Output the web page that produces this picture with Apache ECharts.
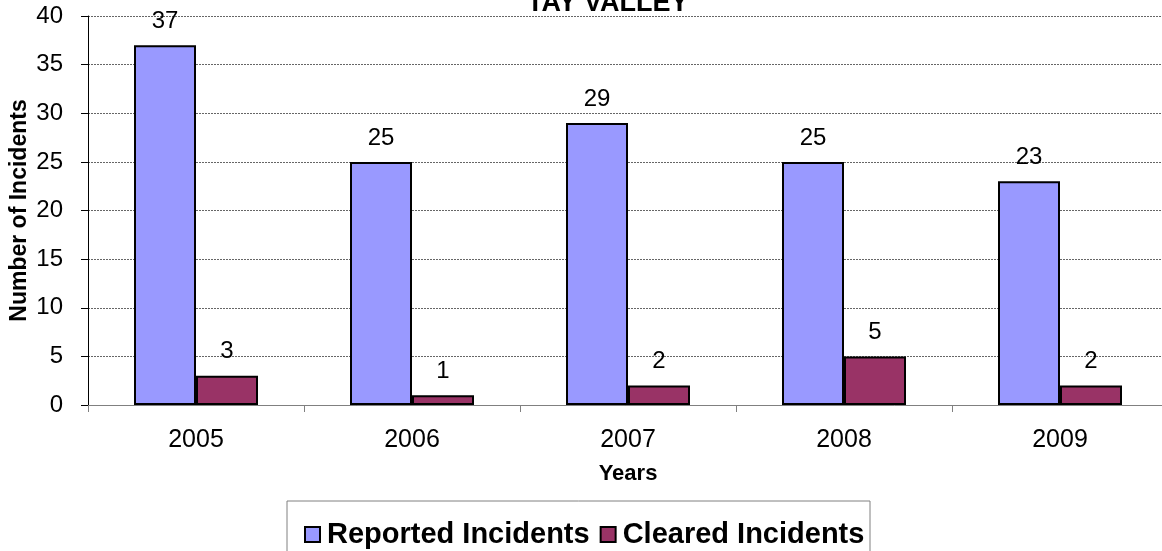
<!DOCTYPE html>
<html>
<head>
<meta charset="utf-8">
<script src="https://cdn.jsdelivr.net/npm/echarts@6/dist/echarts.min.js"></script>
<style>
  html, body { margin: 0; padding: 0; background: #fff; }
  #chart { width: 1162px; height: 551px; }
</style>
</head>
<body>
<div id="chart"></div>
<script>
// data
const years = ['2005', '2006', '2007', '2008', '2009'];
const reported = [37, 25, 29, 25, 23];
const cleared = [3, 1, 2, 5, 2];

const font = 'Arial, "Liberation Sans", sans-serif';

let myChart = echarts.init(document.getElementById('chart'));
myChart.setOption({
  animation: false,
  backgroundColor: '#fff',
  // plot runs a little past the right edge, as in the reference
  grid: {
    left: 88,
    right: -6,
    top: 16,
    bottom: 146,
    outerBoundsMode: 'none',
  },
  graphic: [
    // title, half cut off at the top edge
    {
      type: 'text',
      left: 527,
      top: -10,
      style: {
        text: 'TAY VALLEY',
        font: 'bold 27px ' + font,
        fill: '#000',
      },
    },
    // legend frame
    {
      type: 'rect',
      shape: { x: 287, y: 501, width: 583, height: 60 },
      style: { fill: 'none', stroke: '#808080', lineWidth: 1 },
    },
  ],
  legend: {
    left: 299,
    top: 515,
    itemWidth: 15,
    itemHeight: 15,
    itemGap: 10,
    icon: 'rect',
    textStyle: {
      fontFamily: font,
      fontWeight: 'bold',
      fontSize: 29,
      color: '#000',
      padding: [0, 0, 0, 2],
    },
    data: ['Reported Incidents', 'Cleared Incidents'],
  },
  xAxis: {
    type: 'category',
    data: years,
    name: 'Years',
    nameLocation: 'middle',
    nameGap: 58,
    nameMoveOverlap: false,
    nameTextStyle: {
      fontFamily: font,
      fontWeight: 'bold',
      fontSize: 22,
      color: '#000',
    },
    axisLine: { lineStyle: { color: '#808080', width: 1 } },
    axisTick: { show: true, length: 7, lineStyle: { color: '#808080' } },
    axisLabel: {
      fontFamily: font,
      fontSize: 25,
      color: '#000',
      margin: 23,
    },
  },
  yAxis: {
    type: 'value',
    min: 0,
    max: 40,
    interval: 5,
    name: 'Number of Incidents',
    nameLocation: 'middle',
    nameGap: 57,
    nameMoveOverlap: false,
    nameTextStyle: {
      fontFamily: font,
      fontWeight: 'bold',
      fontSize: 23,
      color: '#000',
    },
    axisLine: { show: true, lineStyle: { color: '#000', width: 1 } },
    axisTick: { show: true, length: 7, lineStyle: { color: '#000' } },
    axisLabel: {
      fontFamily: font,
      fontSize: 24,
      color: '#000',
      margin: 25,
    },
    splitLine: {
      show: true,
      lineStyle: { color: '#666', type: [2, 1], width: 1 },
    },
  },
  series: [
    {
      name: 'Reported Incidents',
      type: 'bar',
      data: reported,
      barWidth: 62,
      barGap: '0%',
      itemStyle: { color: '#9999FF', borderColor: '#000', borderWidth: 2 },
      label: {
        show: true,
        position: 'top',
        distance: 12,
        fontFamily: font,
        fontSize: 24,
        color: '#000',
      },
    },
    {
      name: 'Cleared Incidents',
      type: 'bar',
      data: cleared,
      barWidth: 62,
      barGap: '0%',
      itemStyle: { color: '#993366', borderColor: '#000', borderWidth: 2 },
      label: {
        show: true,
        position: 'top',
        distance: 12,
        fontFamily: font,
        fontSize: 24,
        color: '#000',
      },
    },
  ],
});
</script>
</body>
</html>
